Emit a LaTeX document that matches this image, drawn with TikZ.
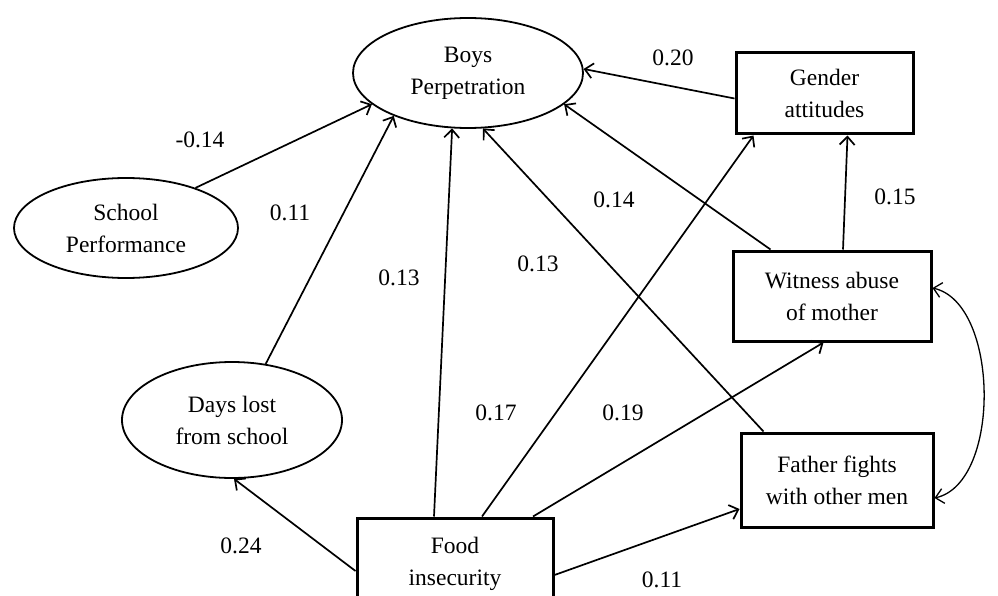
\documentclass[tikz,border=0pt]{standalone}
\usepackage{fontspec}
\setmainfont{Liberation Serif}
\usetikzlibrary{shapes}
\usetikzlibrary{arrows.meta}
\tikzset{
    latent/.style={draw=black, ellipse, line width=1.8pt, inner sep=0pt, align=center},
    observed/.style={draw=black, rectangle, line width=3pt, inner sep=0pt, align=center},
    effect/.style={draw=black, ->},
    covar/.style={draw=black, <->, line width=1.3pt},
    coef/.style={inner sep=0pt},
}

\begin{document}
\begin{tikzpicture}[x=1pt, y=-1pt, line width=1.7pt,
    >={Straight Barb[length=8pt,width=15pt]}, font=\fontsize{23.5}{32}\selectfont]
	\useasboundingbox (0,0) rectangle (998,596);
	\clip (0,0) rectangle (998,596);
	\node[latent, minimum width=230pt, minimum height=110pt] (boys) at (468,73) {Boys\\Perpetration};
	\node[latent, minimum width=224pt, minimum height=100pt] (school) at (126,228) {School\\Performance};
	\node[latent, minimum width=220pt, minimum height=116pt] (days) at (232,420) {Days lost\\from school};
	\node[observed, minimum width=177pt, minimum height=81pt] (gender) at (824.5,93.5) {Gender\\attitudes};
	\node[observed, minimum width=198pt, minimum height=90pt] (witness) at (832,296) {Witness abuse\\of mother};
	\node[observed, minimum width=192pt, minimum height=94pt] (father) at (837,480) {Father fights\\with other men};
	\node[observed, minimum width=196pt, minimum height=92pt] (food) at (455,564) {Food\\insecurity};
%
	\draw[effect] (school.30) -- (boys.198);
	\draw[effect] (days.59) -- (boys.210);
	\draw[effect] ([xshift=-21pt]food.north) -- (boys.254);
	\draw[effect] ([xshift=27pt]food.north) -- ([xshift=19pt]gender.south west);
	\draw[effect] ([xshift=78pt]food.north) -- ([xshift=92pt]witness.south west);
	\draw[effect] ([yshift=-11pt]food.east) -- ([yshift=-29pt]father.west);
	\draw[effect] ([yshift=-7pt]food.west) -- ([xshift=2pt]days.south);
	\draw[effect] ([yshift=-5pt]gender.west) -- (boys.2);
	\draw[effect] ([xshift=11pt]witness.north) -- ([xshift=23pt]gender.south);
	\draw[effect] ([xshift=39pt]witness.north west) -- (boys.342);
	\draw[effect] ([xshift=24pt]father.north west) -- (boys.285);
	\draw[covar] ([yshift=8pt]witness.east) .. controls +(67,15) and +(67,-15) .. ([yshift=-18pt]father.east);
%
	\node[coef] (c1) at (673,58) {0.20};
	\node[coef] (c2) at (200,140) {-0.14};
	\node[coef] (c3) at (290,213) {0.11};
	\node[coef] (c4) at (614,200) {0.14};
	\node[coef] (c5) at (895,197) {0.15};
	\node[coef] (c6) at (399,278) {0.13};
	\node[coef] (c7) at (538,264) {0.13};
	\node[coef] (c8) at (496,413) {0.17};
	\node[coef] (c9) at (623,413) {0.19};
	\node[coef] (c10) at (241,546) {0.24};
	\node[coef] (c11) at (662,580) {0.11};
\end{tikzpicture}
\end{document}
